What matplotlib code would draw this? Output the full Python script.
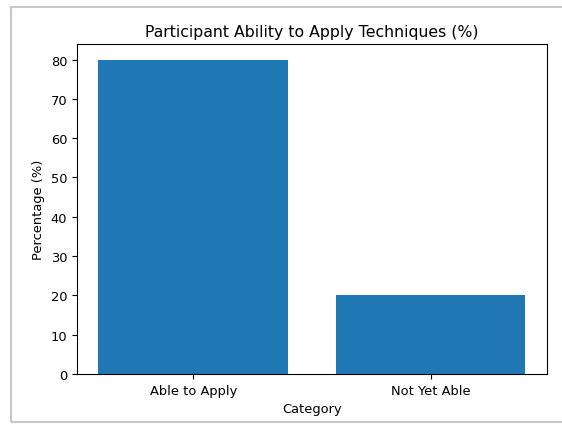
import matplotlib
matplotlib.use("Agg")
import matplotlib.pyplot as plt
from matplotlib.patches import Rectangle

categories = ["Able to Apply", "Not Yet Able"]
percentages = [80, 20]

fig = plt.figure(figsize=(5.62, 4.27), dpi=100)
ax = fig.add_axes([0.137, 0.122, 0.836, 0.773])

ax.bar(categories, percentages, color="#1f77b4")
ax.set_title("Participant Ability to Apply Techniques (%)", fontsize=11.3)
ax.set_xlabel("Category", fontsize=9.4)
ax.set_ylabel("Percentage (%)", fontsize=9.4)
ax.tick_params(labelsize=9.4)

# screenshot frame
fig.patches.append(Rectangle((11 / 562, 4 / 427), 1.0, 415 / 427, transform=fig.transFigure,
                             fill=False, edgecolor="#c8c8c8", linewidth=1.5))

fig.savefig("out.png", dpi=100)
